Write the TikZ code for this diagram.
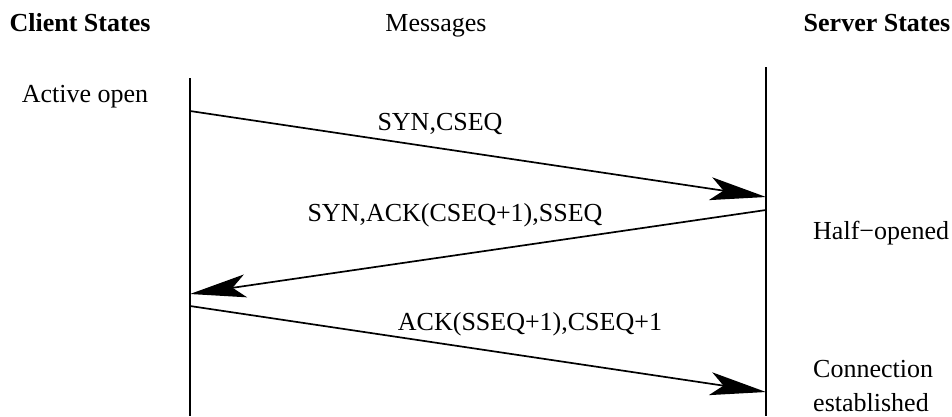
\documentclass[tikz,border=0pt]{standalone}
\usepackage{fontspec}
\setmainfont{Liberation Serif}
\usetikzlibrary{arrows.meta}

\begin{document}
\begin{tikzpicture}[x=1pt,y=-1pt,
  every node/.style={inner sep=0pt,font=\fontsize{26}{34}\selectfont},
  title/.style={font=\fontsize{26}{34}\selectfont\bfseries},
  lifeline/.style={line width=1.7pt},
  msg/.style={line width=1.7pt,-{Stealth[length=56pt,width=23pt,inset=13pt]}}]
\useasboundingbox (0,0) rectangle (952,416);
% column headings
\node[title,anchor=base] (ctitle) at (80,31) {Client States};
\node[anchor=base] (mtitle) at (436,31) {Messages};
\node[title,anchor=base] (stitle) at (877,31) {Server States};
% the two lifelines
\coordinate (ctop) at (190,78);
\coordinate (cbot) at (190,416);
\coordinate (stop) at (766,67);
\coordinate (sbot) at (766,416);
\draw[lifeline] (ctop) -- (cbot);
\draw[lifeline] (stop) -- (sbot);
% message end points
\coordinate (c1) at (190,111);
\coordinate (s1) at (766,197);
\coordinate (s2) at (766,210);
\coordinate (c2) at (190,294);
\coordinate (c3) at (190,306);
\coordinate (s3) at (766,392);
\draw[msg] (c1) -- (s1);
\draw[msg] (s2) -- (c2);
\draw[msg] (c3) -- (s3);
% message labels
\node[anchor=base] (syn) at (440,130) {SYN,CSEQ};
\node[anchor=base] (synack) at (455,221) {SYN,ACK(CSEQ+1),SSEQ};
\node[anchor=base] (ack) at (530,330) {ACK(SSEQ+1),CSEQ+1};
% states
\node[anchor=base] (active) at (85,102) {Active open};
\node[anchor=base west] (half) at (813,239) {Half−opened};
\node[anchor=base west,align=left] (estab) at (813,411) {Connection\\established};
\end{tikzpicture}
\end{document}
